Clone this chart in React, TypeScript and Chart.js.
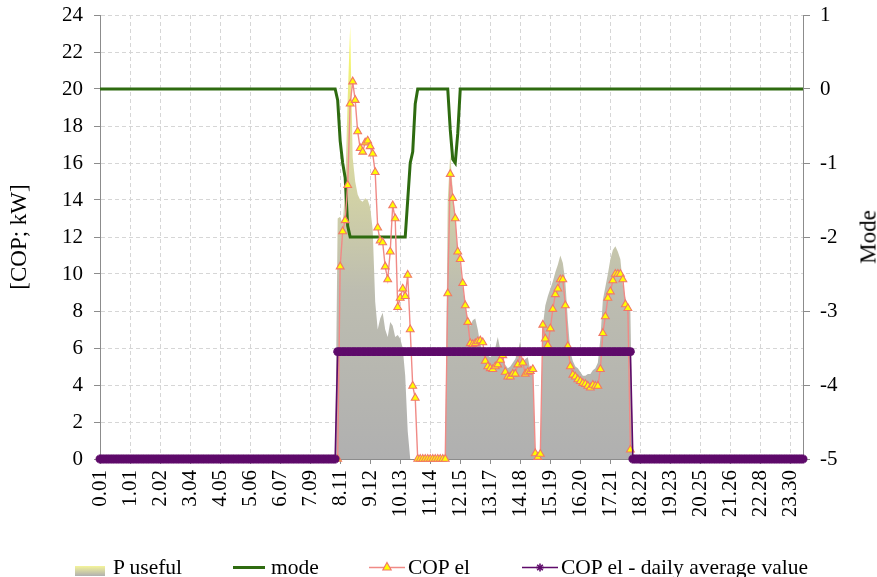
import React, { useEffect, useRef } from 'react';
import { Chart, registerables } from 'chart.js';

Chart.register(...registerables);

// Category tick labels (one every 12 samples)
const TICK_LABELS = [
  '0.01', '1.01', '2.02', '3.04', '4.05', '5.06', '6.07', '7.09', '8.11', '9.12', '10.13', '11.14',
  '12.15', '13.17', '14.18', '15.19', '16.20', '17.21', '18.22', '19.23', '20.25', '21.26', '22.28', '23.30',
];
const SAMPLES_PER_TICK = 12;

// P useful [kW], one value per sample (282 samples)
const P_USEFUL = [
  0,0,0,0,0,0,0,0,0,0,0,0,
  0,0,0,0,0,0,0,0,0,0,0,0,
  0,0,0,0,0,0,0,0,0,0,0,0,
  0,0,0,0,0,0,0,0,0,0,0,0,
  0,0,0,0,0,0,0,0,0,0,0,0,
  0,0,0,0,0,0,0,0,0,0,0,0,
  0,0,0,0,0,0,0,0,0,0,0,0,
  0,0,0,0,0,0,0,0,0,0,0,13.0,
  13.1,12.7,14.6,19.5,23.4,16.3,15.0,14.3,14.0,13.9,14.1,14.0,
  13.6,12.4,8.5,7.0,7.6,7.9,7.0,6.6,7.4,7.2,6.6,6.7,
  6.5,6.0,4.5,1.5,0,0,0,0,0,0,0,0,
  0,0,0,0,0,0,0,14.0,16.5,14.5,13.0,11.2,
  10.5,9.3,8.3,7.6,7.2,7.5,7.6,7.0,6.2,5.9,5.7,5.6,
  5.5,5.7,6.0,6.6,5.9,5.4,5.1,4.9,5.0,5.2,5.4,5.8,
  6.4,5.2,5.4,5.5,4.8,4.7,0,0,0,7.2,8.3,8.8,
  9.2,9.6,10.1,10.5,11.0,10.6,9.6,7.5,5.8,5.3,5.0,4.9,
  4.7,4.5,4.5,4.6,4.6,4.8,4.9,5.2,6.5,8.6,9.3,10.0,
  10.8,11.3,11.5,11.2,10.8,9.4,8.7,8.3,8.0,0,0,0,
  0,0,0,0,0,0,0,0,0,0,0,0,
  0,0,0,0,0,0,0,0,0,0,0,0,
  0,0,0,0,0,0,0,0,0,0,0,0,
  0,0,0,0,0,0,0,0,0,0,0,0,
  0,0,0,0,0,0,0,0,0,0,0,0,
  0,0,0,0,0,0,
];

// mode (right axis)
const MODE = [
  0,0,0,0,0,0,0,0,0,0,0,0,
  0,0,0,0,0,0,0,0,0,0,0,0,
  0,0,0,0,0,0,0,0,0,0,0,0,
  0,0,0,0,0,0,0,0,0,0,0,0,
  0,0,0,0,0,0,0,0,0,0,0,0,
  0,0,0,0,0,0,0,0,0,0,0,0,
  0,0,0,0,0,0,0,0,0,0,0,0,
  0,0,0,0,0,0,0,0,0,0,0,-0.15,
  -0.7,-1,-1.2,-1.85,-2,-2,-2,-2,-2,-2,-2,-2,
  -2,-2,-2,-2,-2,-2,-2,-2,-2,-2,-2,-2,
  -2,-2,-2,-1.5,-1,-0.85,-0.2,0,0,0,0,0,
  0,0,0,0,0,0,0,0,-0.55,-0.95,-1,-0.6,
  0,0,0,0,0,0,0,0,0,0,0,0,
  0,0,0,0,0,0,0,0,0,0,0,0,
  0,0,0,0,0,0,0,0,0,0,0,0,
  0,0,0,0,0,0,0,0,0,0,0,0,
  0,0,0,0,0,0,0,0,0,0,0,0,
  0,0,0,0,0,0,0,0,0,0,0,0,
  0,0,0,0,0,0,0,0,0,0,0,0,
  0,0,0,0,0,0,0,0,0,0,0,0,
  0,0,0,0,0,0,0,0,0,0,0,0,
  0,0,0,0,0,0,0,0,0,0,0,0,
  0,0,0,0,0,0,0,0,0,0,0,0,
  0,0,0,0,0,0,
];

// COP el (null = no value)
const COP_EL = [
  null,null,null,null,null,null,null,null,null,null,null,null,
  null,null,null,null,null,null,null,null,null,null,null,null,
  null,null,null,null,null,null,null,null,null,null,null,null,
  null,null,null,null,null,null,null,null,null,null,null,null,
  null,null,null,null,null,null,null,null,null,null,null,null,
  null,null,null,null,null,null,null,null,null,null,null,null,
  null,null,null,null,null,null,null,null,null,null,null,null,
  null,null,null,null,null,null,null,null,null,null,null,0,
  10.4,12.3,12.9,14.8,19.2,20.4,19.4,17.7,16.8,16.6,17.1,17.2,
  16.9,16.5,15.5,12.5,11.8,11.7,10.4,9.7,11.2,13.7,13.0,8.2,
  8.7,9.2,8.8,9.95,7.0,3.95,3.3,0,0,0,0,0,
  0,0,0,0,0,0,0,8.95,15.4,14.1,13.0,11.2,
  10.8,9.5,8.3,7.4,6.25,6.2,6.25,6.35,6.4,6.3,5.3,5.0,
  4.9,4.85,5.0,5.1,5.35,5.6,4.7,4.45,4.45,4.6,4.6,5.1,
  5.7,5.2,4.6,4.7,4.75,4.85,0.3,0.1,0.27,7.25,6.5,6.15,
  7.05,8.1,8.9,9.2,9.7,9.7,8.3,6.1,5.0,4.55,4.45,4.3,
  4.2,4.1,4.05,3.95,3.85,4.0,3.95,3.95,4.85,6.8,7.7,8.7,
  9.05,9.65,10.0,10.0,10.0,9.7,8.35,8.15,0.5,null,null,null,
  null,null,null,null,null,null,null,null,null,null,null,null,
  null,null,null,null,null,null,null,null,null,null,null,null,
  null,null,null,null,null,null,null,null,null,null,null,null,
  null,null,null,null,null,null,null,null,null,null,null,null,
  null,null,null,null,null,null,null,null,null,null,null,null,
  null,null,null,null,null,null,
];

// COP el - daily average value
const COP_DAILY_AVG = [
  0,0,0,0,0,0,0,0,0,0,0,0,
  0,0,0,0,0,0,0,0,0,0,0,0,
  0,0,0,0,0,0,0,0,0,0,0,0,
  0,0,0,0,0,0,0,0,0,0,0,0,
  0,0,0,0,0,0,0,0,0,0,0,0,
  0,0,0,0,0,0,0,0,0,0,0,0,
  0,0,0,0,0,0,0,0,0,0,0,0,
  0,0,0,0,0,0,0,0,0,0,0,5.8,
  5.8,5.8,5.8,5.8,5.8,5.8,5.8,5.8,5.8,5.8,5.8,5.8,
  5.8,5.8,5.8,5.8,5.8,5.8,5.8,5.8,5.8,5.8,5.8,5.8,
  5.8,5.8,5.8,5.8,5.8,5.8,5.8,5.8,5.8,5.8,5.8,5.8,
  5.8,5.8,5.8,5.8,5.8,5.8,5.8,5.8,5.8,5.8,5.8,5.8,
  5.8,5.8,5.8,5.8,5.8,5.8,5.8,5.8,5.8,5.8,5.8,5.8,
  5.8,5.8,5.8,5.8,5.8,5.8,5.8,5.8,5.8,5.8,5.8,5.8,
  5.8,5.8,5.8,5.8,5.8,5.8,5.8,5.8,5.8,5.8,5.8,5.8,
  5.8,5.8,5.8,5.8,5.8,5.8,5.8,5.8,5.8,5.8,5.8,5.8,
  5.8,5.8,5.8,5.8,5.8,5.8,5.8,5.8,5.8,5.8,5.8,5.8,
  5.8,5.8,5.8,5.8,5.8,5.8,5.8,5.8,5.8,0,0,0,
  0,0,0,0,0,0,0,0,0,0,0,0,
  0,0,0,0,0,0,0,0,0,0,0,0,
  0,0,0,0,0,0,0,0,0,0,0,0,
  0,0,0,0,0,0,0,0,0,0,0,0,
  0,0,0,0,0,0,0,0,0,0,0,0,
  0,0,0,0,0,0,
];

const LEFT_TICKS_MAX = 24;
const RIGHT_MIN = -5;
const RIGHT_MAX = 1;

const FONT = '"Liberation Serif", "Times New Roman", serif';
const GREEN = '#2e6b10';
const PINK = '#f08a86';
const PURPLE = '#5e0a6a';
const GRID = '#d6d6d6';
const AXIS = '#8c8c8c';

const toXY = (arr: (number | null)[]) => arr.map((v, i) => ({ x: i, y: v }));

export default function App() {
  const ref = useRef<HTMLCanvasElement>(null);

  useEffect(() => {
    const canvas = ref.current;
    if (!canvas) return;
    const lastIndex = P_USEFUL.length - 1;
    const chart = new Chart(canvas, {
      type: 'line',
      data: {
        datasets: [
          {
            label: 'COP el - daily average value',
            data: toXY(COP_DAILY_AVG),
            yAxisID: 'y',
            borderColor: PURPLE,
            borderWidth: 1.6,
            pointStyle: 'star',
            pointRadius: 4.4,
            pointBorderWidth: 2.8,
            pointBorderColor: PURPLE,
            pointBackgroundColor: PURPLE,
            fill: false,
            order: 1,
            clip: false,
          } as any,
          {
            label: 'COP el',
            data: toXY(COP_EL),
            yAxisID: 'y',
            borderColor: PINK,
            borderWidth: 1.4,
            pointStyle: 'triangle',
            pointRadius: 4.5,
            pointBackgroundColor: '#ffff00',
            pointBorderColor: '#f07868',
            pointBorderWidth: 1.1,
            fill: false,
            spanGaps: false,
            order: 2,
            clip: false,
          } as any,
          {
            label: 'mode',
            data: toXY(MODE),
            yAxisID: 'y1',
            borderColor: GREEN,
            borderWidth: 3,
            pointRadius: 0,
            fill: false,
            order: 3,
          } as any,
          {
            label: 'P useful',
            data: toXY(P_USEFUL),
            yAxisID: 'y',
            borderWidth: 0,
            borderColor: 'rgba(0,0,0,0)',
            pointRadius: 0,
            fill: 'origin',
            order: 4,
            backgroundColor: (ctx: any) => {
              const { ctx: c, chartArea } = ctx.chart;
              if (!chartArea) return 'rgba(0,0,0,0)';
              const g = c.createLinearGradient(0, chartArea.top, 0, chartArea.bottom);
              g.addColorStop(0, '#ffff5a');
              g.addColorStop(0.3, '#dcdca0');
              g.addColorStop(0.62, '#bdbdb0');
              g.addColorStop(1, '#b0b0b0');
              return g;
            },
          } as any,
        ],
      },
      options: {
        responsive: false,
        animation: false,
        events: [],
        layout: { padding: { top: 15, left: 0, right: 0, bottom: 0 } },
        elements: { line: { tension: 0 } },
        plugins: {
          legend: { display: false },
          tooltip: { enabled: false },
        },
        scales: {
          x: {
            type: 'linear',
            min: 0,
            max: lastIndex,
            afterBuildTicks: (scale: any) => {
              scale.ticks = TICK_LABELS.map((_, k) => ({ value: k * SAMPLES_PER_TICK }));
            },
            afterFit: (scale: any) => {
              scale.height = 118;
            },
            ticks: {
              autoSkip: false,
              minRotation: 90,
              maxRotation: 90,
              padding: 6,
              color: '#000',
              font: { family: FONT, size: 21 },
              callback: (_v: any, i: number) => TICK_LABELS[i],
            },
            grid: {
              color: GRID,
              lineWidth: 1,
              drawTicks: true,
              tickLength: 5,
              tickColor: AXIS,
            },
            border: { display: true, color: AXIS, width: 1, dash: [4, 3] },
          },
          y: {
            position: 'left',
            min: 0,
            max: LEFT_TICKS_MAX,
            afterFit: (scale: any) => {
              scale.width = 100;
              scale.paddingTop = 0;
              scale.paddingBottom = 0;
            },
            ticks: {
              stepSize: 2,
              padding: 11,
              color: '#000',
              font: { family: FONT, size: 21 },
            },
            grid: {
              color: GRID,
              lineWidth: 1,
              drawTicks: true,
              tickLength: 6,
              tickColor: AXIS,
            },
            border: { display: true, color: AXIS, width: 1, dash: [4, 3] },
            title: {
              display: true,
              text: '[COP; kW]',
              color: '#000',
              font: { family: FONT, size: 23 },
              padding: { top: 6, bottom: 0 },
            },
          },
          y1: {
            position: 'right',
            min: RIGHT_MIN,
            max: RIGHT_MAX,
            afterFit: (scale: any) => {
              scale.width = 74;
              scale.paddingTop = 0;
              scale.paddingBottom = 0;
            },
            ticks: {
              stepSize: 1,
              padding: 10,
              color: '#000',
              font: { family: FONT, size: 21 },
            },
            grid: {
              drawOnChartArea: false,
              drawTicks: true,
              tickLength: 7,
              tickColor: AXIS,
              color: AXIS,
            },
            border: { display: true, color: AXIS, width: 1 },
          },
        },
      } as any,
    });
    return () => chart.destroy();
  }, []);

  const textStyle: React.CSSProperties = {
    position: 'absolute',
    top: 555,
    height: 24,
    lineHeight: '24px',
    fontSize: 21.5,
    fontFamily: FONT,
    color: '#000',
    whiteSpace: 'nowrap',
  };

  return (
    <div
      style={{
        position: 'fixed',
        left: 0,
        top: 0,
        width: 877,
        height: 577,
        background: '#fff',
        overflow: 'hidden',
      }}
    >
      <canvas ref={ref} width={877} height={577} style={{ position: 'absolute', left: 0, top: 0 }} />
      <div
        style={{
          position: 'absolute',
          left: 868,
          top: 237,
          transform: 'translate(-50%, -50%) rotate(-90deg)',
          fontFamily: FONT,
          fontSize: 23,
          lineHeight: '1',
          whiteSpace: 'nowrap',
          color: '#000',
        }}
      >
        Mode
      </div>
      {/* Legend */}
      <div
        style={{
          position: 'absolute',
          left: 75,
          top: 566,
          width: 30,
          height: 10,
          background: 'linear-gradient(to bottom, #f4f49a, #b0b0b0)',
        }}
      />
      <div style={{ ...textStyle, left: 113 }}>P useful</div>
      <div style={{ position: 'absolute', left: 233, top: 566, width: 32, height: 3, background: GREEN }} />
      <div style={{ ...textStyle, left: 271 }}>mode</div>
      <svg style={{ position: 'absolute', left: 369, top: 559 }} width={36} height={16}>
        <line x1={0} y1={8.5} x2={36} y2={8.5} stroke={PINK} strokeWidth={1.4} />
        <polygon points="18,3.5 22.2,11 13.8,11" fill="#ffff00" stroke="#f07868" strokeWidth={1.1} />
      </svg>
      <div style={{ ...textStyle, left: 408 }}>COP el</div>
      <svg style={{ position: 'absolute', left: 522, top: 559 }} width={36} height={16}>
        <line x1={0} y1={8.5} x2={36} y2={8.5} stroke={PURPLE} strokeWidth={1.6} />
        <g stroke={PURPLE} strokeWidth={1.6}>
          <line x1={18} y1={4.5} x2={18} y2={12.5} />
          <line x1={14} y1={8.5} x2={22} y2={8.5} />
          <line x1={15.2} y1={5.7} x2={20.8} y2={11.3} />
          <line x1={15.2} y1={11.3} x2={20.8} y2={5.7} />
        </g>
      </svg>
      <div style={{ ...textStyle, left: 561 }}>COP el - daily average value</div>
    </div>
  );
}
